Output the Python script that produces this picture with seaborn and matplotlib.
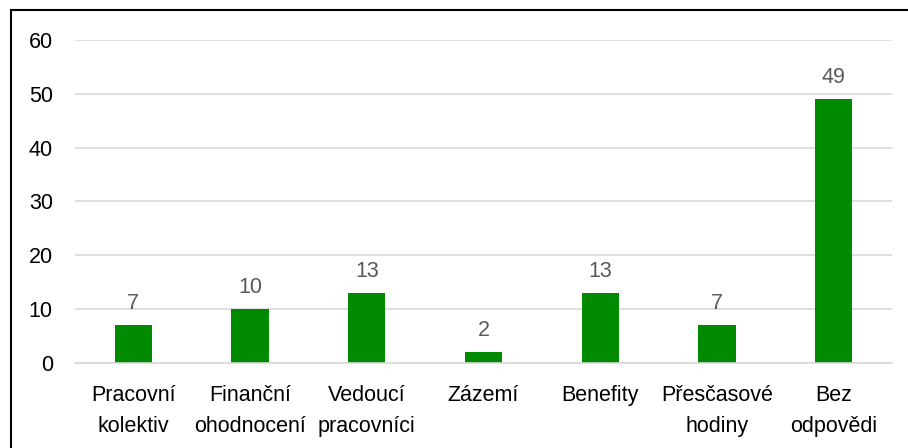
import matplotlib
matplotlib.use('Agg')
import matplotlib.pyplot as plt
import seaborn as sns
import pandas as pd
from matplotlib.patches import Rectangle

sns.set_theme(style="white")
plt.rcParams['font.family'] = ['Liberation Sans', 'DejaVu Sans']

# Data
categories = ['Pracovní\nkolektiv', 'Finanční\nohodnocení', 'Vedoucí\npracovníci',
              'Zázemí', 'Benefity', 'Přesčasové\nhodiny', 'Bez\nodpovědi']
values = [7, 10, 13, 2, 13, 7, 49]
yticks = [0, 10, 20, 30, 40, 50, 60]

BAR_COLOR = '#008A00'
GRID_COLOR = '#D9D9D9'
LABEL_COLOR = '#595959'
FS = 15.5

df = pd.DataFrame({'cat': categories, 'val': values})

fig = plt.figure(figsize=(9.08, 4.48), dpi=100)
ax = fig.add_axes([75 / 908, 1 - 363 / 448, (892 - 75) / 908, (363 - 40) / 448])

sns.barplot(data=df, x='cat', y='val', ax=ax, color=BAR_COLOR, width=0.32,
            saturation=1, edgecolor='none')

ax.set_ylim(0, 60)
ax.set_yticks(yticks)
ax.set_xlim(-0.5, len(categories) - 0.5)
ax.yaxis.grid(True, color=GRID_COLOR, linewidth=1.2)
ax.set_axisbelow(True)
for s in ['top', 'right', 'left']:
    ax.spines[s].set_visible(False)
ax.spines['bottom'].set_color(GRID_COLOR)
ax.spines['bottom'].set_linewidth(1.2)
ax.set_xlabel('')
ax.set_ylabel('')
ax.tick_params(axis='y', length=0, pad=16, labelsize=FS, labelcolor='black')
ax.tick_params(axis='x', length=0, pad=16, labelsize=FS, labelcolor='black')
for lbl in ax.get_xticklabels():
    lbl.set_linespacing(1.6)

for i, v in enumerate(values):
    ax.annotate(str(v), (i, v), textcoords='offset points', xytext=(0, 8),
                ha='center', va='bottom', fontsize=FS, color=LABEL_COLOR)

# Chart border
fig.patches.append(Rectangle((11 / 908, -0.1), 1.1, 1 - 10 / 448 + 0.1,
                             transform=fig.transFigure, fill=False,
                             edgecolor='black', linewidth=1.5, figure=fig))

fig.savefig('out.png', dpi=100)
